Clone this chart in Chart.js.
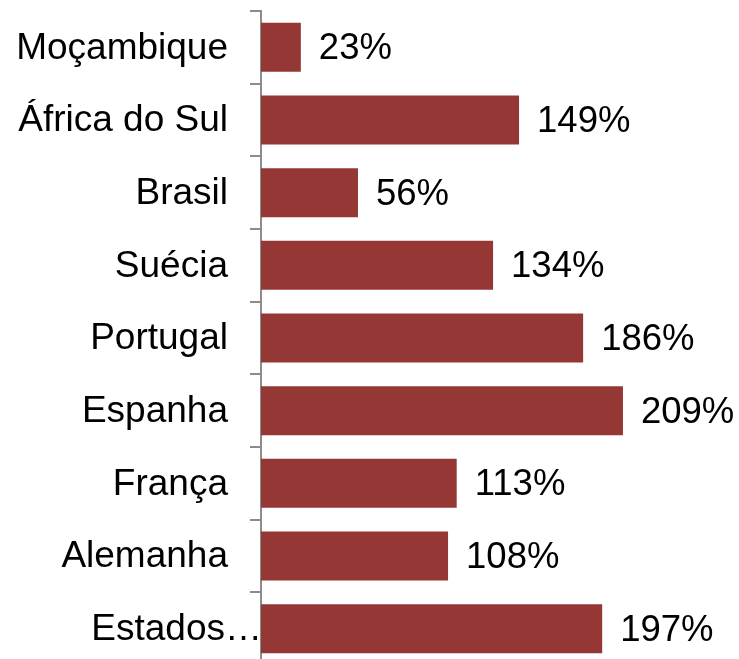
<!DOCTYPE html>
<html>
<head>
<meta charset="utf-8">
<script src="https://cdn.jsdelivr.net/npm/chart.js@4/dist/chart.umd.min.js"></script>
<style>
html,body{margin:0;padding:0;background:#fff;overflow:hidden;}
#wrap{width:739px;height:680px;}
</style>
</head>
<body>
<div id="wrap"><canvas id="c" width="739" height="680"></canvas></div>
<script>
const categories = ["Moçambique","África do Sul","Brasil","Suécia","Portugal","Espanha","França","Alemanha","Estados…"];
const values = [23,149,56,134,186,209,113,108,197];
const valueLabels = ["23%","149%","56%","134%","186%","209%","113%","108%","197%"];

const CAT_FONT = '37px "Liberation Sans", Arial, sans-serif';
const VAL_FONT = '36.5px "Liberation Sans", Arial, sans-serif';

const labelPlugin = {
  id: 'labelPlugin',
  afterDraw(chart) {
    const ctx = chart.ctx;
    const ys = chart.scales.y;
    const area = chart.chartArea;
    ctx.save();
    ctx.fillStyle = '#000';
    ctx.textBaseline = 'middle';
    // category labels
    ctx.font = CAT_FONT;
    ctx.textAlign = 'right';
    categories.forEach((c, i) => {
      const y = ys.getPixelForValue(i) + 1;
      const x = c.endsWith('…') ? area.left + 1 : area.left - 33;
      ctx.fillText(c, x, y);
    });
    // value labels
    ctx.font = VAL_FONT;
    ctx.textAlign = 'left';
    const meta = chart.getDatasetMeta(0);
    meta.data.forEach((bar, i) => {
      ctx.fillText(valueLabels[i], bar.x + 18, bar.y + 2);
    });
    ctx.restore();
  }
};

new Chart(document.getElementById('c'), {
  type: 'bar',
  data: {
    labels: categories,
    datasets: [{
      data: values,
      backgroundColor: '#953735',
      borderWidth: 0,
      categoryPercentage: 1,
      barPercentage: 0.675
    }]
  },
  options: {
    indexAxis: 'y',
    responsive: false,
    animation: false,
    devicePixelRatio: 1,
    layout: { padding: { top: 11, bottom: 15, left: 0, right: 0 } },
    plugins: { legend: { display: false }, tooltip: { enabled: false } },
    scales: {
      x: { display: false, min: 0, max: 276 },
      y: {
        display: true,
        ticks: { display: false },
        grid: { drawOnChartArea: false, drawTicks: true, tickLength: 11, color: '#8c8c8c', lineWidth: 2, offset: true },
        border: { display: true, color: '#8c8c8c', width: 2 },
        afterFit(scale) { scale.width = 261; }
      }
    }
  },
  plugins: [labelPlugin]
});
</script>
</body>
</html>
